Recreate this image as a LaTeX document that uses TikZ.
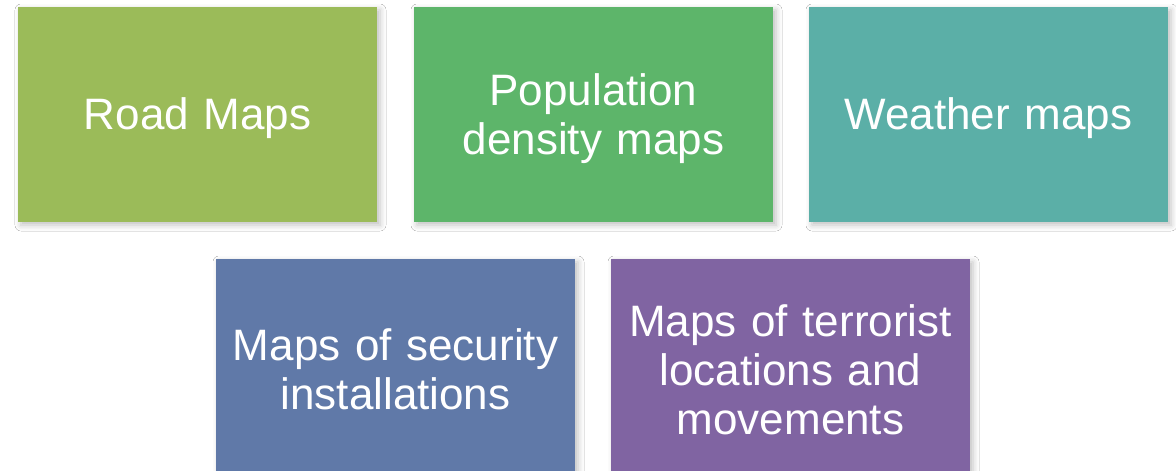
\documentclass[tikz,border=0pt]{standalone}
\usepackage{fontspec}
\setmainfont{Liberation Sans}
\usetikzlibrary{shadows.blur}
\definecolor{cRoad}{RGB}{155,187,89}
\definecolor{cPop}{RGB}{93,181,106}
\definecolor{cWeather}{RGB}{91,175,167}
\definecolor{cSec}{RGB}{96,121,168}
\definecolor{cTerr}{RGB}{128,100,162}
\tikzset{
  card/.style={rectangle, minimum width=359pt, minimum height=215pt, inner sep=0pt,
    blur shadow={shadow xshift=3pt, shadow yshift=-3pt, shadow blur radius=6pt, shadow opacity=25}},
  cardtext/.style={text=white, align=center, text width=350pt, inner sep=0pt,
    font=\fontsize{44pt}{49pt}\selectfont}
}
\begin{document}
\begin{tikzpicture}[x=1pt,y=-1pt]
\clip (0,0) rectangle (1176,471);
\fill[white] (0,0) rectangle (1176,471);
\node[card, fill=cRoad] (road) at (197.5,114.5) {};
\node[card, fill=cPop] (pop) at (593.5,114.5) {};
\node[card, fill=cWeather] (weather) at (988.5,114.5) {};
\node[card, fill=cSec] (sec) at (395.5,366.5) {};
\node[card, fill=cTerr] (terr) at (790.5,366.5) {};
\node[cardtext] (roadt) at ([yshift=-4pt]road.center) {Road Maps};
\node[cardtext] (popt) at ([yshift=-4pt]pop.center) {Population\\density maps};
\node[cardtext] (weathert) at ([yshift=-4pt]weather.center) {Weather maps};
\node[cardtext] (sect) at ([yshift=-3pt]sec.center) {Maps of security\\installations};
\node[cardtext] (terrt) at ([yshift=-3pt]terr.center) {Maps of terrorist\\locations and\\movements};
\end{tikzpicture}
\end{document}
